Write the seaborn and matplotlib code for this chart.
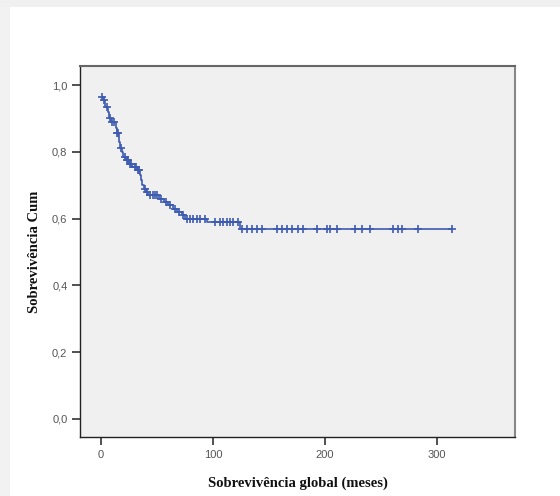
import numpy as np
import pandas as pd
import matplotlib
matplotlib.use("Agg")
import matplotlib.pyplot as plt
from matplotlib.patches import Rectangle
import seaborn as sns

# Kaplan-Meier step curve (time in months, cumulative survival after step)
step_times = [0, 2, 4, 6, 7, 9, 13, 14, 16, 17, 19, 20, 22, 25, 28, 32, 35, 36, 37, 38,
              40, 42, 52, 56, 60, 64, 68, 72, 75, 95, 124, 313]
step_surv = [0.965, 0.955, 0.935, 0.92, 0.90, 0.89, 0.87, 0.855, 0.83, 0.81, 0.80, 0.785,
             0.775, 0.765, 0.755, 0.745, 0.73, 0.715, 0.70, 0.69, 0.68, 0.67, 0.66, 0.65,
             0.64, 0.63, 0.62, 0.61, 0.60, 0.59, 0.568, 0.568]

# Censored observations (times)
censor_times = [1, 3, 5, 8, 10, 12, 14.5, 15, 18, 21, 23, 24, 26, 27, 30, 31, 33, 34, 39,
                41, 44, 46, 48, 50, 54, 58, 62, 66, 70, 73,
                76.5, 79.5, 82.4, 85.4, 88.4, 92.9,
                101.8, 106.3, 109.2, 112.2, 115.2, 118.1, 122.6,
                125.6, 130, 134.6, 139, 143.5, 156.9, 161.3, 165.8, 170.3, 176.2, 180.6,
                192.6, 201.5, 204.5, 210.5, 226.8, 232.7, 240.2, 261, 265.5, 268.5,
                283.3, 313]

x_ticks = [0, 100, 200, 300]
y_ticks = [0.0, 0.2, 0.4, 0.6, 0.8, 1.0]
y_ticklabels = ["0,0", "0,2", "0,4", "0,6", "0,8", "1,0"]

curve = pd.DataFrame({"t": step_times, "s": step_surv})
idx = np.searchsorted(np.array(step_times), np.array(censor_times), side="right") - 1
cens = pd.DataFrame({"t": censor_times, "s": np.array(step_surv)[idx]})

sns.set_theme(style="white")
line_color = "#3E5BB0"

fig = plt.figure(figsize=(5.6, 4.96), dpi=100)
fig.patch.set_facecolor("white")
# faint frame bands on left/top
fig.patches.append(Rectangle((0, 0), 10 / 560, 1, transform=fig.transFigure,
                             facecolor="#F2F2F2", edgecolor="none", zorder=0))
fig.patches.append(Rectangle((0, 1 - 7 / 496), 1, 7 / 496, transform=fig.transFigure,
                             facecolor="#F0F0F0", edgecolor="none", zorder=0))

ax = fig.add_axes([80 / 560, 1 - 437 / 496, 435 / 560, 371 / 496])
ax.set_facecolor("#F0F0F0")

sns.lineplot(data=curve, x="t", y="s", drawstyle="steps-post", color=line_color,
             linewidth=1.2, ax=ax, estimator=None, sort=False)
sns.scatterplot(data=cens, x="t", y="s", marker="+", color=line_color, s=28,
                linewidth=1.2, ax=ax, zorder=3)

ax.set_xlim(-18.75, 369.6)
ax.set_ylim(-0.054, 1.057)
ax.set_xticks(x_ticks)
ax.set_xticklabels([str(v) for v in x_ticks])
ax.set_yticks(y_ticks)
ax.set_yticklabels(y_ticklabels)

ax.tick_params(axis="both", which="major", direction="out", length=6, width=1.2,
               color="#333333", labelsize=8, labelcolor="#555555", pad=3,
               bottom=True, left=True)
for lab in ax.get_xticklabels() + ax.get_yticklabels():
    lab.set_family("Liberation Sans")

for side in ["left", "bottom"]:
    ax.spines[side].set_color("#222222")
    ax.spines[side].set_linewidth(1.0)
ax.spines["top"].set_color("#666666")
ax.spines["top"].set_linewidth(1.5)
ax.spines["right"].set_color("#888888")
ax.spines["right"].set_linewidth(1.5)

ax.set_xlabel("Sobrevivência global (meses)", family="Liberation Serif",
              fontweight="bold", fontsize=10.5, color="#111111", labelpad=12)
ax.set_ylabel("Sobrevivência Cum", family="Liberation Serif",
              fontweight="bold", fontsize=10.5, color="#111111", labelpad=8)

fig.savefig("out.png", dpi=100)
